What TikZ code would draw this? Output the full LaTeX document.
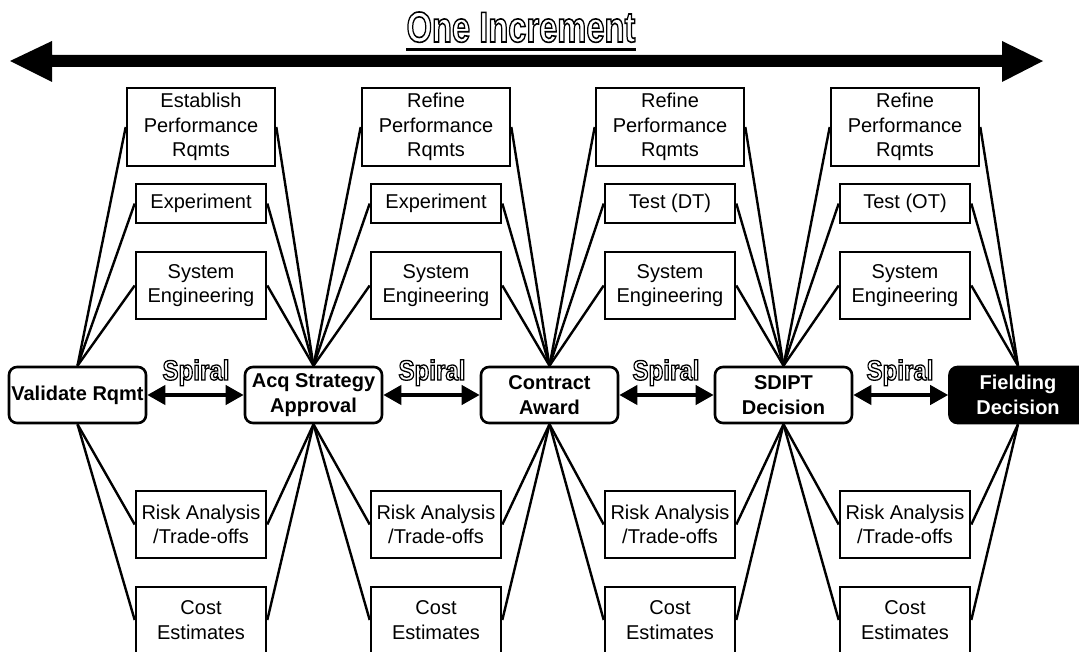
\documentclass[tikz,border=0pt]{standalone}
\usepackage{fontspec}
\setmainfont{Liberation Sans}
\usepackage{graphicx}
\usetikzlibrary{arrows.meta}
\newcommand{\outlinetext}[2][1.2]{\special{pdf:literal direct 1 Tr #1 w}#2\special{pdf:literal direct 0 Tr}}
\begin{document}
\begin{tikzpicture}[x=1pt,y=-1pt,
  taskbox/.style={draw, line width=2.6pt, fill=white, inner sep=0pt, align=center,
    font=\fontsize{20}{24.5}\selectfont, minimum width=130pt},
  ms/.style={draw, line width=2.6pt, rounded corners=8pt, fill=white, minimum width=137pt,
    minimum height=56pt, inner sep=0pt, align=center, font=\bfseries\fontsize{20}{25}\selectfont},
  conn/.style={line width=2.4pt},
  spiralarrow/.style={line width=4pt, {Triangle[length=18pt,width=19pt]}-{Triangle[length=18pt,width=19pt]}},
  outlined/.style={inner sep=0pt, font=\bfseries\fontsize{28}{28}\selectfont}
]
\fill[white] (0,0) rectangle (1079,652);
\useasboundingbox (0,0) rectangle (1079,652);
\clip (0,0) rectangle (1079,652);

% title and big arrow
\node[anchor=base, inner sep=0pt, font=\bfseries\fontsize{43}{43}\selectfont] (title) at (521,42)
  {\scalebox{0.76}[1]{\outlinetext[1.6]{One Increment}}};
\draw[line width=2.5pt] ([yshift=-7pt]title.south west) -- ([yshift=-7pt]title.south east);
\fill (10,61) -- (52,41) -- (52,55) -- (1002,55) -- (1002,41) -- (1043,61) -- (1002,82)
  -- (1002,67) -- (52,67) -- (52,82) -- cycle;

% milestones
\node[ms] (m1) at (77.5,395) {Validate Rqmt};
\node[ms] (m2) at (313.5,395) {Acq Strategy\\Approval};
\node[ms] (m3) at (549.5,395) {Contract\\Award};
\node[ms] (m4) at (783.5,395) {SDIPT\\Decision};
\node[ms, fill=black, text=white] (m5) at (1018,395) {Fielding\\Decision};

% spiral labels and arrows
\foreach \i/\x in {1/196,2/432,3/666,4/900}{
  \node[outlined, anchor=base] (sp\i) at (\x,380)
    {\scalebox{0.86}[1]{\outlinetext[1.3]{Spiral}}};
}
\draw[spiralarrow] (m1) -- (m2);
\draw[spiralarrow] (m2) -- (m3);
\draw[spiralarrow] (m3) -- (m4);
\draw[spiralarrow] (m4) -- (m5);

% task boxes
\foreach \c/\x/\top/\sec in {1/201/Establish/Experiment, 2/436/Refine/Experiment,
    3/670/Refine/Test (DT), 4/905/Refine/Test (OT)}{
  \node[taskbox, minimum width=148pt, minimum height=78pt] (t\c a) at (\x,127) {\top\\Performance\\Rqmts};
  \node[taskbox, minimum height=39pt] (t\c b) at (\x,203.5) {\sec};
  \node[taskbox, minimum height=67pt] (t\c c) at (\x,285.5) {System\\Engineering};
  \node[taskbox, minimum height=67pt] (t\c d) at (\x,524.5) {Risk Analysis\\/Trade-offs};
  \node[taskbox, minimum height=66pt] (t\c e) at (\x,620) {Cost\\Estimates};
}

% connectors
\foreach \c in {1,...,4}{
  \pgfmathtruncatemacro{\n}{\c+1}
  \foreach \r in {a,b,c}{
    \draw[conn] (m\c.north) -- (t\c\r.west);
    \draw[conn] (t\c\r.east) -- (m\n.north);
  }
  \foreach \r in {d,e}{
    \draw[conn] (m\c.south) -- (t\c\r.west);
    \draw[conn] (t\c\r.east) -- (m\n.south);
  }
}
\end{tikzpicture}
\end{document}
